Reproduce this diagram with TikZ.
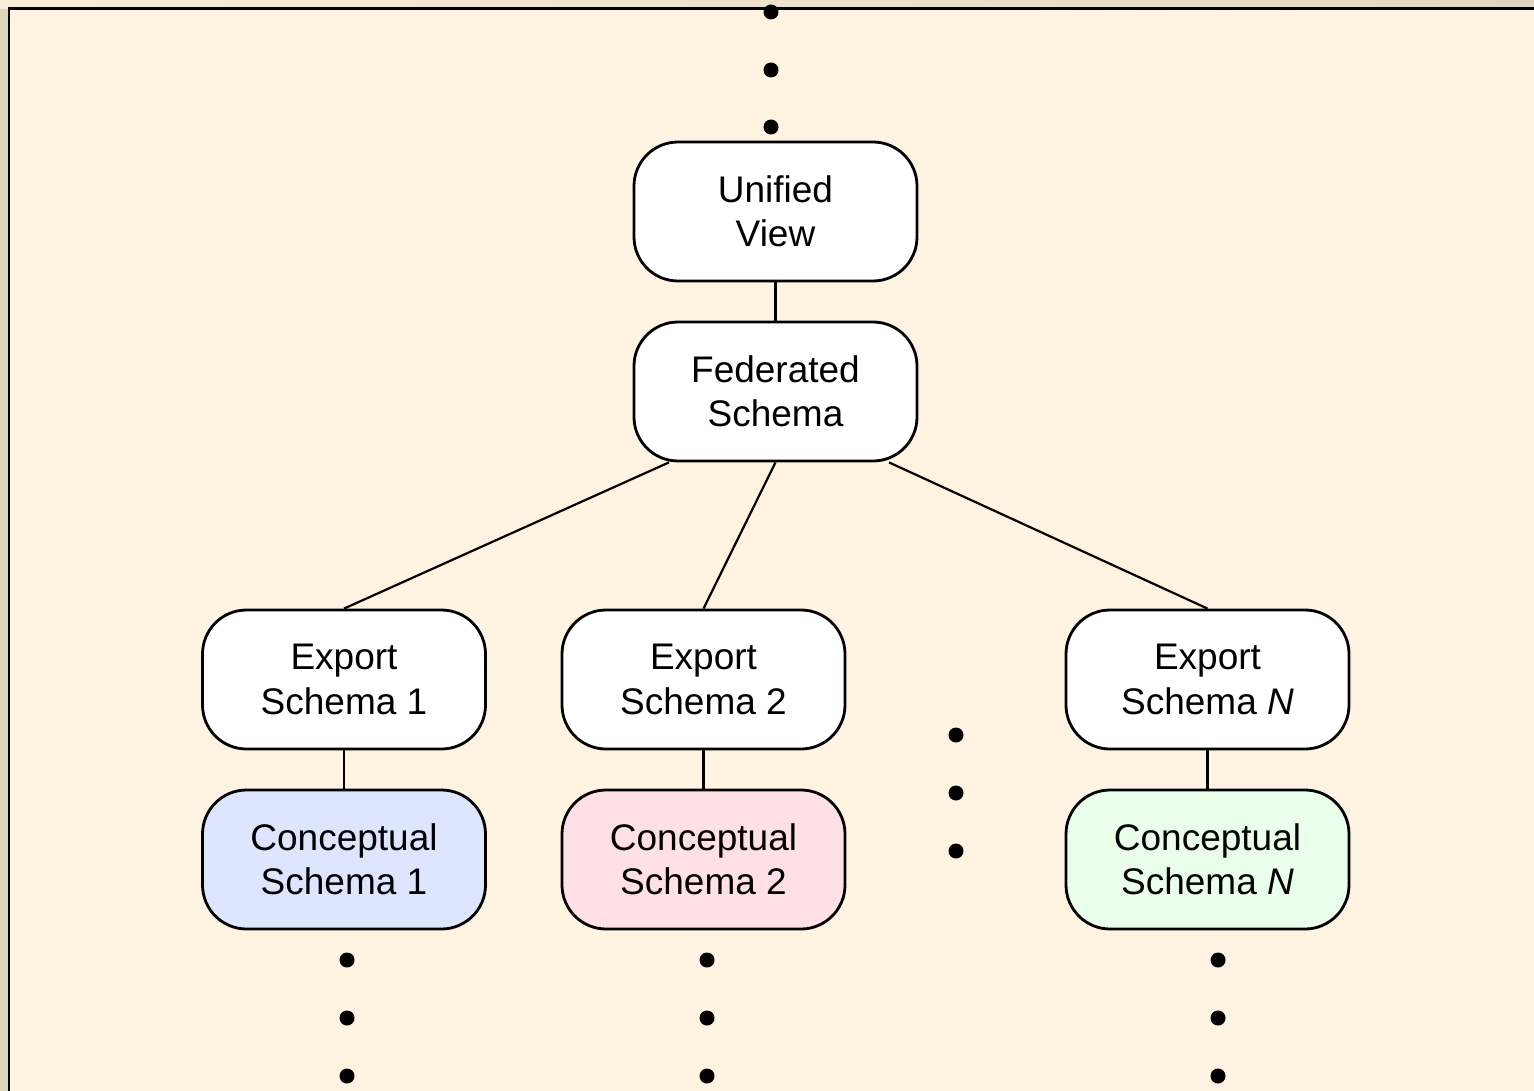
\documentclass[tikz,border=0pt]{standalone}
\usepackage{fontspec}
\setmainfont{Liberation Sans}
\usetikzlibrary{calc}

\definecolor{pagebg}{HTML}{FFF3E1}
\definecolor{stripL}{HTML}{F8EDD6}
\definecolor{stripR}{HTML}{E0D8BE}
\definecolor{stripside}{HTML}{DDD5B9}
\definecolor{cblue}{HTML}{DDE5FF}
\definecolor{cpink}{HTML}{FFE0E6}
\definecolor{cgreen}{HTML}{E9FFE9}

\tikzset{
  schemabox/.style={draw=black, line width=2.8pt, rounded corners=44pt,
    fill=white, minimum width=283pt, minimum height=139pt, inner sep=0pt,
    align=center, font=\fontsize{37}{44.5}\selectfont},
  link/.style={draw=black, line width=2.2pt},
  frameline/.style={draw=black, line width=2.6pt},
  ellipsisdot/.style={fill=black},
}

\begin{document}
\begin{tikzpicture}[x=1pt, y=-1pt]
  \useasboundingbox (0,0) rectangle (1534,1091);

  % page background and frame
  \shade[left color=stripL, right color=stripR] (0,0) rectangle (1534,9);
  \fill[stripside] (0,9) rectangle (9,1091);
  \fill[pagebg] (9,8.5) rectangle (1534,1091);
  \draw[frameline] (9,1091) -- (9,8.5) -- (1534,8.5);

  % schema nodes
  \node[schemabox] (uv)  at (775.5,211.5) {Unified\\View};
  \node[schemabox] (fed) at (775.5,391.5) {Federated\\Schema};

  \node[schemabox] (e1) at (344,679.5)    {Export\\Schema 1};
  \node[schemabox] (e2) at (703.5,679.5)  {Export\\Schema 2};
  \node[schemabox] (eN) at (1207.5,679.5) {Export\\Schema \textit{N}};

  \node[schemabox, fill=cblue]  (c1) at (344,859.5)    {Conceptual\\Schema 1};
  \node[schemabox, fill=cpink]  (c2) at (703.5,859.5)  {Conceptual\\Schema 2};
  \node[schemabox, fill=cgreen] (cN) at (1207.5,859.5) {Conceptual\\Schema \textit{N}};

  % connectors
  \draw[link] (uv.south) -- (fed.north);
  \draw[link] ($(fed.south)+(-106.5,0)$) -- (e1.north);
  \draw[link] (fed.south) -- (e2.north);
  \draw[link] ($(fed.south)+(113.5,0)$) -- (eN.north);
  \draw[link] (e1.south) -- (c1.north);
  \draw[link] (e2.south) -- (c2.north);
  \draw[link] (eN.south) -- (cN.north);

  % vertical ellipses
  \foreach \y in {12,70,127} \fill[ellipsisdot] (771,\y) circle (7.5);
  \foreach \y in {735,793,851} \fill[ellipsisdot] (956,\y) circle (7.5);
  \foreach \x in {347,707,1218}
    \foreach \y in {960,1018,1076} \fill[ellipsisdot] (\x,\y) circle (7.5);
\end{tikzpicture}
\end{document}
